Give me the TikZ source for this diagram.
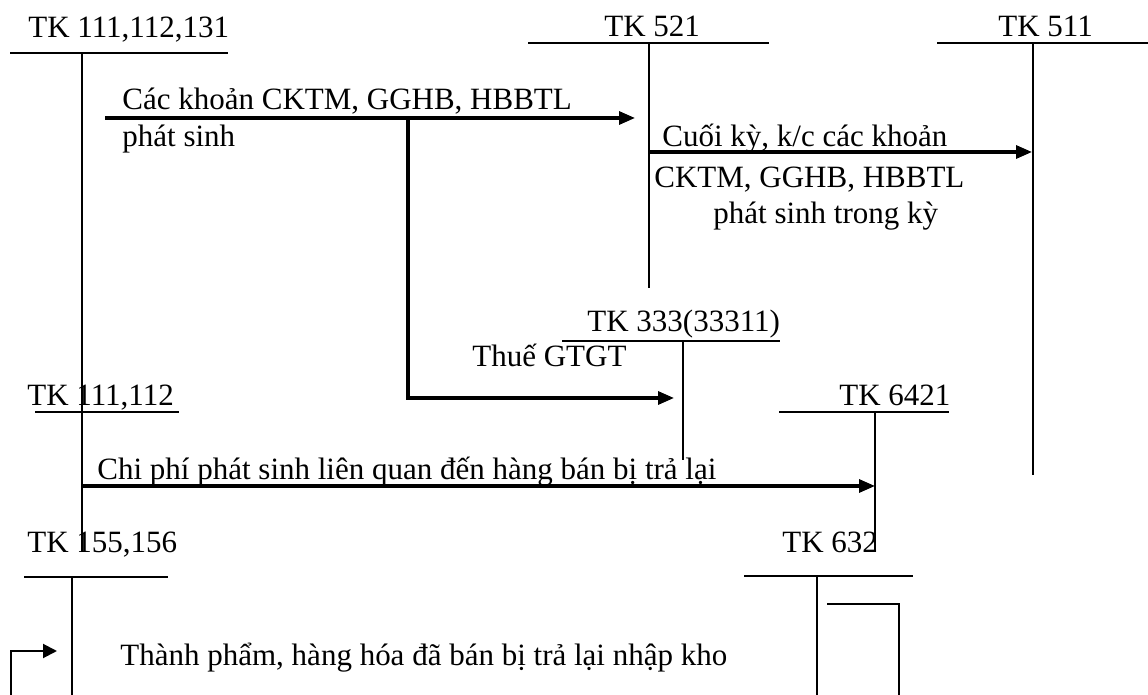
\documentclass[tikz,border=0pt]{standalone}
\usepackage{fontspec}
\setmainfont{Liberation Serif}
\usetikzlibrary{arrows.meta,positioning}

\begin{document}
\begin{tikzpicture}[
  x=0.5pt, y=-0.5pt,
  txt/.style={font=\fontsize{15.5}{18}\selectfont, inner sep=0pt, anchor=base west},
  tline/.style={line width=1pt},
  flow/.style={-{Triangle[length=8pt,width=6.5pt]}, line width=1.6pt},
  back/.style={-{Triangle[length=7pt,width=7pt]}, line width=1pt}
]
  \useasboundingbox (0,0) rectangle (1148,695);

  % Account names
  \node[txt] (tk111) at (28,38) {TK 111,112,131};
  \node[txt] (tk521) at (604,37) {TK 521};
  \node[txt] (tk511) at (998,37) {TK 511};
  \node[txt] (tk333) at (587,332) {TK 333(33311)};
  \node[txt] (tk111b) at (27,406) {TK 111,112};
  \node[txt] (tk6421) at (839,406) {TK 6421};
  \node[txt] (tk155) at (27,553) {TK 155,156};
  \node[txt] (tk632) at (782,553) {TK 632};

  % T-accounts: left/right of bar, stem x, bar y, stem end
  \foreach \xa/\xb/\xs/\ya/\yb in {10/228/82/53/552, 528/769/649/43/288,
      937/1148/1033/43/475, 562/780/683/341/460, 779/949/875/412/552,
      24/168/72/577/695, 744/913/817/576/695} {
    \draw[tline] (\xa,\ya) -- (\xb,\ya) (\xs,\ya) -- (\xs,\yb);
  }
  \draw[tline] (35,412) -- (179,412);
  \draw[tline] (827,604) -- (899,604) -- (899,695);

  % Arrow end points
  \coordinate (ck1) at (105,118);
  \coordinate (ck2) at (635,118);
  \coordinate (vat1) at (408,118);
  \coordinate (vat2) at (674,398);
  \coordinate (kc1) at (649,152);
  \coordinate (kc2) at (1032,152);
  \coordinate (cp1) at (82,486);
  \coordinate (cp2) at (875,486);
  \coordinate (nk1) at (11,695);
  \coordinate (nk2) at (57,651);

  % Flows
  \draw[flow] (ck1) -- (ck2);
  \draw[flow] (vat1) |- (vat2);
  \draw[flow] (kc1) -- (kc2);
  \draw[flow] (cp1) -- (cp2);
  \draw[back] (nk1) |- (nk2);

  % Labels
  \node[txt] (lck) at (122,110) {Các khoản CKTM, GGHB, HBBTL};
  \node[txt] (lps) at (122,147) {phát sinh};
  \node[txt] (lkc) at (662,147) {Cuối kỳ, k/c các khoản};
  \node[txt] (lkc2) at (654,188) {CKTM, GGHB, HBBTL};
  \node[txt] (lkc3) at (713,224) {phát sinh trong kỳ};
  \node[txt] (lvat) at (472,367) {Thuế GTGT};
  \node[txt] (lcp) at (97,480) {Chi phí phát sinh liên quan đến hàng bán bị trả lại};
  \node[txt] (lnk) at (120,666) {Thành phẩm, hàng hóa đã bán bị trả lại nhập kho};
\end{tikzpicture}
\end{document}
